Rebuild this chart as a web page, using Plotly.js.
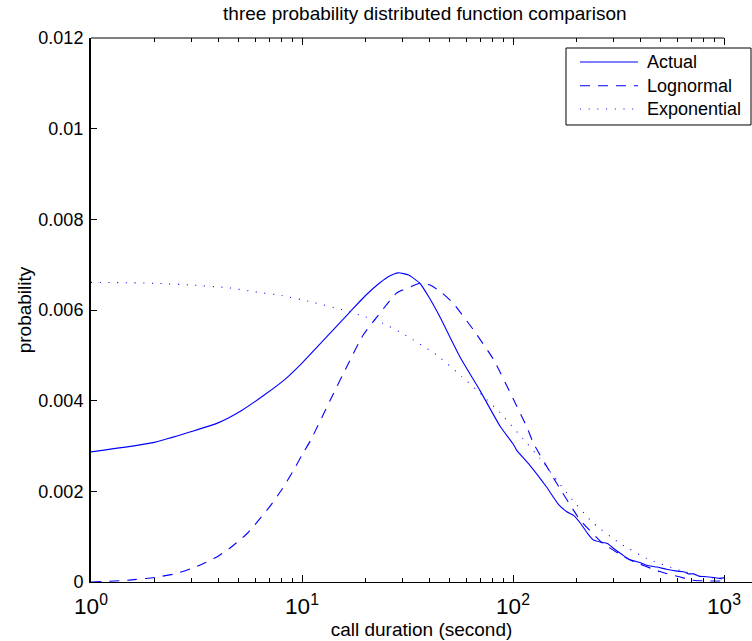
<!DOCTYPE html>
<html>
<head>
<meta charset="utf-8">
<script src="https://cdn.plot.ly/plotly-3.0.1.min.js"></script>
<style>
  html, body { margin: 0; padding: 0; background: #fff; overflow: hidden; }
  #chart { width: 752px; height: 641px; }
</style>
</head>
<body>
<div id="chart"></div>
<script>
// Call duration (s) and probability for the measured distribution
const actualX = [1, 2, 3, 4, 5.2, 6.7, 8.3, 10, 13.6, 16.9, 20, 23.4, 26, 28.6, 32, 36.2, 40, 45, 56, 70, 87, 100, 104, 120, 144, 165, 180, 195, 210, 225, 240, 260, 280, 300, 330, 358, 400, 430, 480, 535, 600, 650, 680, 715, 760, 800, 890, 950, 1000];
const actualY = [0.00287, 0.00308, 0.00332, 0.00351, 0.00379, 0.00414, 0.00447, 0.00483, 0.00549, 0.00596, 0.00632, 0.0066, 0.00675, 0.00682, 0.00677, 0.00659, 0.00628, 0.00585, 0.00497, 0.00421, 0.00343, 0.00305, 0.00291, 0.00258, 0.0021, 0.0017, 0.00155, 0.00146, 0.00128, 0.00108, 0.00093, 0.00088, 0.00085, 0.00074, 0.0006, 0.00049, 0.00043, 0.00037, 0.00033, 0.00028, 0.00024, 0.00022, 0.00018, 0.00018, 0.00013, 0.00012, 0.0001, 0.00008, 0.00009];

// Lognormal fit
const lognormX = [1, 1.5, 2, 2.5, 3, 3.5, 4, 4.5, 5, 5.5, 6, 7, 8, 9, 10, 11, 13.6, 16.3, 19.5, 23.4, 28, 33, 36.2, 40.5, 46, 52, 65, 81, 100, 116, 125, 161, 208, 267, 358, 497, 715, 1000];
const lognormY = [0.0, 0.00004, 0.0001, 0.00018, 0.0003, 0.00043, 0.00057, 0.00073, 0.0009, 0.00107, 0.00127, 0.00165, 0.00203, 0.00242, 0.0028, 0.00313, 0.00401, 0.00475, 0.00545, 0.00593, 0.00637, 0.00652, 0.00659, 0.00655, 0.00638, 0.00615, 0.00556, 0.0049, 0.00405, 0.00343, 0.00306, 0.00218, 0.00137, 0.00085, 0.00049, 0.00023, 0.00004, 0.00002];

// Exponential fit
const expoX = [1, 2, 3, 4.5, 6, 8, 11, 15.4, 20, 23.4, 31.3, 43.4, 57, 70, 86.5, 111, 134, 161, 186, 240, 322, 430, 614, 800, 1000];
const expoY = [0.00661, 0.00659, 0.00655, 0.00649, 0.0064, 0.00632, 0.00618, 0.00601, 0.00585, 0.00574, 0.00543, 0.00501, 0.00454, 0.00416, 0.00374, 0.00317, 0.00273, 0.00225, 0.00188, 0.0013, 0.00085, 0.00052, 0.00026, 0.00012, 0.00006];

// Axis ticks: decades are labelled as powers of ten
const xDecadeValues = ['1', '10', '100', '1000'];
const xDecadeLabels = ['10<sup>0</sup>', '10<sup>1</sup>', '10<sup>2</sup>', '10<sup>3</sup>'];
const yTicks = [0, 0.002, 0.004, 0.006, 0.008, 0.01, 0.012];

const seriesNames = ['Actual', 'Lognormal', 'Exponential'];
const seriesDash = ['solid', '10px,8px', '1px,7.7px'];

const FONT = 'Liberation Sans, Arial, Helvetica, sans-serif';
const BLUE = '#0000ff';
const X_MAX_LOG = 3.1327;

const labelAlias = {};
xDecadeValues.forEach((v, i) => { labelAlias[v] = xDecadeLabels[i]; });

const traces = [
  { x: actualX, y: actualY, name: seriesNames[0], type: 'scatter', mode: 'lines',
    line: { color: BLUE, width: 1.1, dash: seriesDash[0], shape: 'spline', smoothing: 0.5 } },
  { x: lognormX, y: lognormY, name: seriesNames[1], type: 'scatter', mode: 'lines',
    line: { color: BLUE, width: 1.1, dash: seriesDash[1], shape: 'spline', smoothing: 0.5 } },
  // drawn against the top axis (same range) so that axis gets its tick marks
  { x: expoX, y: expoY, name: seriesNames[2], type: 'scatter', mode: 'lines',
    xaxis: 'x2', yaxis: 'y',
    line: { color: BLUE, width: 1.1, dash: seriesDash[2], shape: 'spline', smoothing: 0.5 } }
];

// Hand-drawn legend box in paper coordinates
const legendBox = { x0: 0.7186, x1: 0.9985, y0: 0.8401, y1: 0.9816 };
const legendRows = [0.9559, 0.9123, 0.8695];
const legendLine = { x0: 0.7398, x1: 0.8275 };
const legendTextX = 0.8381;

const shapes = [
  // top border of the axes box, ending at 10^3
  { type: 'line', xref: 'x', yref: 'paper', x0: 1, x1: 1000, y0: 1, y1: 1,
    line: { color: '#000', width: 1 } },
  { type: 'rect', xref: 'paper', yref: 'paper', x0: legendBox.x0, x1: legendBox.x1,
    y0: legendBox.y0, y1: legendBox.y1, fillcolor: '#fff',
    line: { color: '#000', width: 1 }, layer: 'above' }
];
const annotations = [];
seriesNames.forEach((name, i) => {
  shapes.push({ type: 'line', xref: 'paper', yref: 'paper',
    x0: legendLine.x0, x1: legendLine.x1, y0: legendRows[i], y1: legendRows[i],
    line: { color: BLUE, width: 1.1, dash: seriesDash[i] }, layer: 'above' });
  annotations.push({ xref: 'paper', yref: 'paper', x: legendTextX, y: legendRows[i],
    xanchor: 'left', yanchor: 'middle', showarrow: false, text: name,
    font: { family: FONT, size: 18, color: '#000' } });
});

const minorTicks = { dtick: 'D1', ticks: 'inside', ticklen: 4, tickcolor: '#000', tickwidth: 1, showgrid: false };

const layout = {
  width: 752, height: 641,
  margin: { l: 91, r: 0, t: 38, b: 59, pad: 0 },
  paper_bgcolor: '#fff', plot_bgcolor: '#fff',
  showlegend: false,
  font: { family: FONT, color: '#000', size: 18 },
  title: { text: 'three probability distributed function comparison',
    font: { family: FONT, size: 19, color: '#000' },
    x: 0.505, xref: 'paper', xanchor: 'center', y: 0.979, yref: 'container', yanchor: 'middle' },
  xaxis: {
    type: 'log', range: [0, X_MAX_LOG],
    showgrid: false, zeroline: false,
    showline: true, linecolor: '#000', linewidth: 1,
    ticks: 'inside', ticklen: 7, tickcolor: '#000', tickwidth: 1,
    tickmode: 'linear', tick0: 0, dtick: 1, exponentformat: 'power',
    labelalias: labelAlias, ticklabelstandoff: 5,
    tickfont: { family: FONT, size: 18, color: '#000' },
    minor: minorTicks,
    title: { text: 'call duration (second)', font: { family: FONT, size: 19, color: '#000' }, standoff: 3 }
  },
  xaxis2: {
    type: 'log', range: [0, X_MAX_LOG], overlaying: 'x', side: 'top',
    showgrid: false, zeroline: false, showline: false,
    ticks: 'inside', ticklen: 7, tickcolor: '#000', tickwidth: 1,
    tickmode: 'linear', tick0: 0, dtick: 1, showticklabels: false,
    minor: minorTicks
  },
  yaxis: {
    range: [0, 0.012],
    showgrid: false, zeroline: false,
    showline: true, linecolor: '#000', linewidth: 2,
    ticks: 'inside', ticklen: 6, tickcolor: '#000', tickwidth: 1,
    tickmode: 'array', tickvals: yTicks,
    ticktext: yTicks.map(v => String(v)),
    ticklabelstandoff: 2,
    tickfont: { family: FONT, size: 18, color: '#000' },
    title: { text: 'probability', font: { family: FONT, size: 19, color: '#000' }, standoff: 2 }
  },
  shapes: shapes,
  annotations: annotations
};

Plotly.newPlot('chart', traces, layout, { staticPlot: true, displayModeBar: false });
</script>
</body>
</html>
